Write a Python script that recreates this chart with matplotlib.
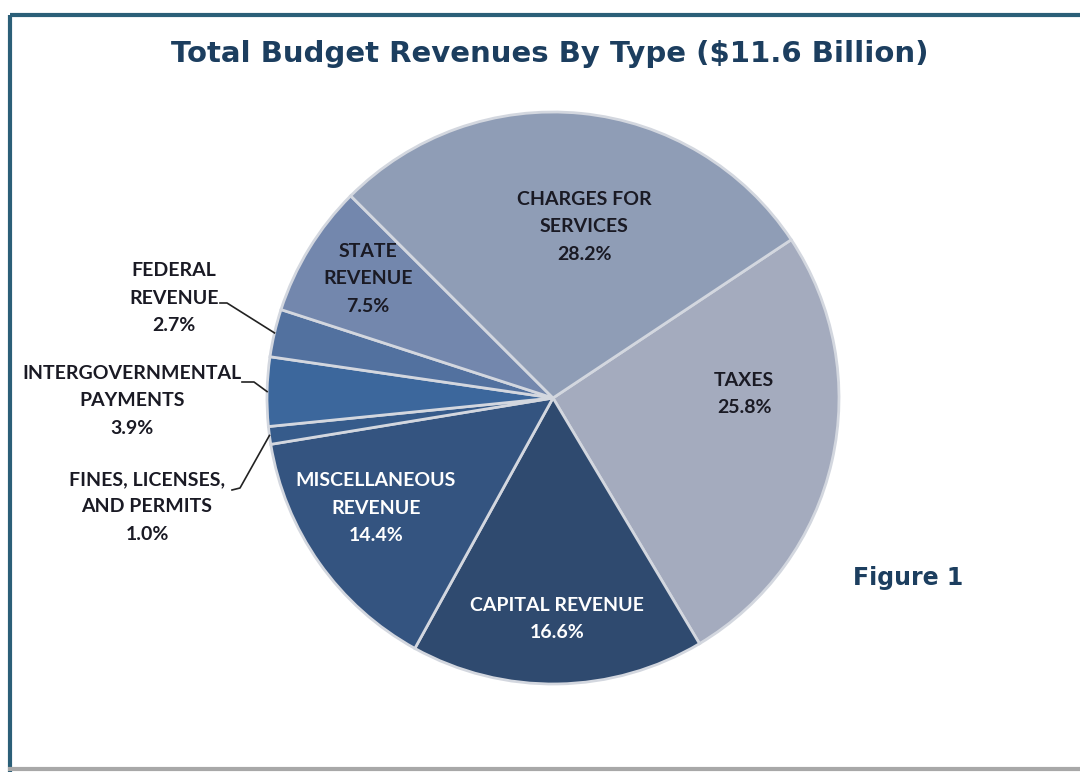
import matplotlib.pyplot as plt
from matplotlib.lines import Line2D
import numpy as np

# revenue shares, clockwise from the charges/taxes boundary
categories = ["TAXES", "CAPITAL REVENUE", "MISCELLANEOUS\nREVENUE",
              "FINES, LICENSES,\nAND PERMITS", "INTERGOVERNMENTAL\nPAYMENTS",
              "FEDERAL\nREVENUE", "STATE\nREVENUE", "CHARGES FOR\nSERVICES"]
shares = [25.8, 16.6, 14.4, 1.0, 3.9, 2.7, 7.5, 28.2]
colors = ["#a4abbe", "#2f4a6f", "#345480", "#365b8b", "#3c679c",
          "#52719f", "#7387ad", "#8f9db6"]

W, H = 1080, 774
fig = plt.figure(figsize=(W / 100, H / 100), dpi=100)

# pie centre and radius in pixels
cx, cy, r = 553, 398, 286
ax = fig.add_axes([(cx - r) / W, (H - cy - r) / H, 2 * r / W, 2 * r / H])
wedges, _ = ax.pie(shares, colors=colors, startangle=33.6, counterclock=False,
                   wedgeprops=dict(edgecolor="#d3d7df", linewidth=2.0))
ax.set_xlim(-1, 1)
ax.set_ylim(-1, 1)
ax.set_aspect("equal")
ax.axis("off")

# overlay in pixel coordinates for text and frame
ov = fig.add_axes([0, 0, 1, 1], facecolor="none")
ov.set_xlim(0, W)
ov.set_ylim(H, 0)
ov.axis("off")

navy = "#1c3e5f"
ov.plot([10, W], [15, 15], color="#2b5f78", lw=3, solid_capstyle="butt")
ov.plot([10, 10], [15, 772], color="#2b5f78", lw=3, solid_capstyle="butt")
ov.plot([8, W], [769, 769], color="#a8a8a8", lw=3, solid_capstyle="butt")

ov.text(550, 54, "Total Budget Revenues By Type ($11.6 Billion)", ha="center",
        va="center", fontsize=21, fontweight="bold", color=navy,
        family="DejaVu Sans")
ov.text(908, 578, "Figure 1", ha="center", va="center", fontsize=17,
        fontweight="bold", color=navy, family="DejaVu Sans")


def wedge_point(w, frac=1.0):
    # point on the wedge's mid-angle, converted to overlay pixels
    a = np.deg2rad((w.theta1 + w.theta2) / 2)
    disp = ax.transData.transform((frac * np.cos(a), frac * np.sin(a)))
    return ov.transData.inverted().transform(disp)


# label positions: (x, y of the text block centre, text colour)
label_pos = [(744, 394, "#1a1a24"), (557, 619, "white"), (376, 508, "white"),
             (147, 507, "#1a1a24"), (132, 401, "#1a1a24"),
             (174, 298, "#1a1a24"), (368, 279, "#1a1a24"), (584, 227, "#1a1a24")]

for name, val, (x, y, c) in zip(categories, shares, label_pos):
    ov.text(x, y, f"{name}\n{val:.1f}%", ha="center", va="center",
            fontsize=14, fontweight="bold", color=c, family="Lato",
            linespacing=1.75)

# leader lines for the thin slices: (start x, y, elbow x, y)
leaders = {5: (220, 303, 227, 303), 4: (242, 382, 254, 382),
           3: (232, 490, 240, 488)}
for i, (x0, y0, x1, y1) in leaders.items():
    px, py = wedge_point(wedges[i])
    ov.add_line(Line2D([x0, x1, px], [y0, y1, py], color="#222222", lw=1.2))

fig.savefig("out.png", dpi=100)
